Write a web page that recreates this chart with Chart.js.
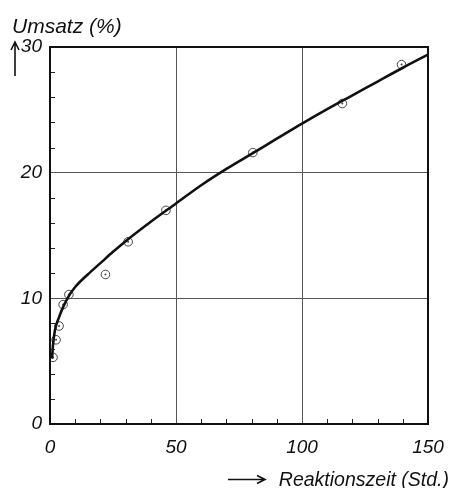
<!DOCTYPE html>
<html>
<head>
<meta charset="utf-8">
<script src="https://cdn.jsdelivr.net/npm/chart.js@4/dist/chart.umd.min.js"></script>
<style>
  html, body { margin: 0; padding: 0; background: #fff; }
  #wrap { width: 459px; height: 488px; }
</style>
</head>
<body>
<div id="wrap"><canvas id="chart"></canvas></div>
<script>
// fitted curve
const curveX = [0.8, 1.2, 2, 3.6, 5.2, 7.5, 10, 15, 20, 25, 30, 40, 50, 60, 70, 80, 90, 100, 110, 120, 130, 140, 150];
const curveY = [5.2, 6.3, 7.5, 8.5, 9.3, 10.2, 10.9, 11.9, 12.8, 13.7, 14.55, 16.1, 17.55, 19.0, 20.3, 21.5, 22.7, 23.9, 25.05, 26.15, 27.25, 28.35, 29.4];

// measured points (circles)
const pointX = [1.2, 2.4, 3.6, 5.2, 7.5, 22, 31, 46, 80.5, 116, 139.5];
const pointY = [5.3, 6.7, 7.8, 9.5, 10.3, 11.9, 14.5, 17.0, 21.6, 25.5, 28.6];

const xTicks = [0, 50, 100, 150];
const yTicks = [0, 10, 20, 30];
const xMinor = [10, 20, 30, 40, 60, 70, 80, 90, 110, 120, 130, 140];
const yMinor = [2, 4, 6, 8, 12, 14, 16, 18, 22, 24, 26, 28];

const yTitle = "Umsatz (%)";
const xTitle = "Reaktionszeit (Std.)";

const FONT = "'Liberation Sans', Arial, sans-serif";

function pairs(xs, ys) {
    return xs.map((x, i) => ({ x: x, y: ys[i] }));
}

// frame, minor ticks, axis titles and arrows
const decor = {
    id: "decor",
    afterDraw(chart) {
        const ctx = chart.ctx;
        const a = chart.chartArea;
        const xs = chart.scales.x;
        const ys = chart.scales.y;
        ctx.save();
        ctx.strokeStyle = "#222";
        ctx.lineWidth = 1;
        xMinor.forEach(v => {
            const px = Math.round(xs.getPixelForValue(v)) + 0.5;
            ctx.beginPath();
            ctx.moveTo(px, a.bottom);
            ctx.lineTo(px, a.bottom - 5);
            ctx.stroke();
        });
        yMinor.forEach(v => {
            const py = Math.round(ys.getPixelForValue(v)) + 0.5;
            ctx.beginPath();
            ctx.moveTo(a.left, py);
            ctx.lineTo(a.left + 5, py);
            ctx.stroke();
        });
        ctx.lineWidth = 2;
        ctx.strokeStyle = "#111";
        ctx.strokeRect(a.left, a.top, a.right - a.left, a.bottom - a.top);

        // up arrow next to y axis
        ctx.lineWidth = 1.6;
        ctx.beginPath();
        ctx.moveTo(15, 76);
        ctx.lineTo(15, 43);
        ctx.moveTo(11, 50);
        ctx.lineTo(15, 42);
        ctx.lineTo(19, 50);
        ctx.stroke();

        // right arrow before x title
        ctx.beginPath();
        ctx.moveTo(228, 479.5);
        ctx.lineTo(264, 479.5);
        ctx.moveTo(257, 475.5);
        ctx.lineTo(265, 479.5);
        ctx.lineTo(257, 483.5);
        ctx.stroke();

        ctx.fillStyle = "#111";
        ctx.font = "italic 21px " + FONT;
        ctx.textBaseline = "alphabetic";
        ctx.textAlign = "left";
        ctx.fillText(yTitle, 12, 33);
        ctx.font = "italic 19.5px " + FONT;
        ctx.textAlign = "right";
        ctx.fillText(xTitle, 449, 486);
        ctx.restore();
    }
};

new Chart(document.getElementById("chart"), {
    type: "scatter",
    data: {
        datasets: [
            {
                data: pairs(curveX, curveY),
                showLine: true,
                borderColor: "#111",
                borderWidth: 2.6,
                pointRadius: 0,
                cubicInterpolationMode: "monotone",
                fill: false
            },
            {
                data: pairs(pointX, pointY),
                pointStyle: "circle",
                pointRadius: 4.3,
                pointBorderWidth: 1,
                pointBorderColor: "#444",
                pointBackgroundColor: "rgba(0,0,0,0)"
            },
            {
                data: pairs(pointX, pointY),
                pointRadius: 1,
                pointBorderWidth: 0,
                pointBackgroundColor: "#444"
            }
        ]
    },
    options: {
        responsive: true,
        maintainAspectRatio: false,
        animation: false,
        events: [],
        layout: { padding: { top: 47, right: 31, left: 0, bottom: 0 } },
        plugins: { legend: { display: false }, tooltip: { enabled: false } },
        scales: {
            x: {
                type: "linear",
                min: 0,
                max: 150,
                afterFit: s => { s.height = 64; },
                afterBuildTicks: s => { s.ticks = xTicks.map(v => ({ value: v })); },
                ticks: {
                    color: "#111",
                    padding: 12,
                    maxRotation: 0,
                    font: { family: FONT, size: 19, style: "italic" }
                },
                grid: { color: "#555", lineWidth: 1, drawTicks: false },
                border: { display: false }
            },
            y: {
                type: "linear",
                min: 0,
                max: 30,
                afterFit: s => { s.width = 50; },
                afterBuildTicks: s => { s.ticks = yTicks.map(v => ({ value: v })); },
                ticks: {
                    color: "#111",
                    padding: 8,
                    font: { family: FONT, size: 19, style: "italic" }
                },
                grid: { color: "#555", lineWidth: 1, drawTicks: false },
                border: { display: false }
            }
        }
    },
    plugins: [decor]
});
</script>
</body>
</html>
